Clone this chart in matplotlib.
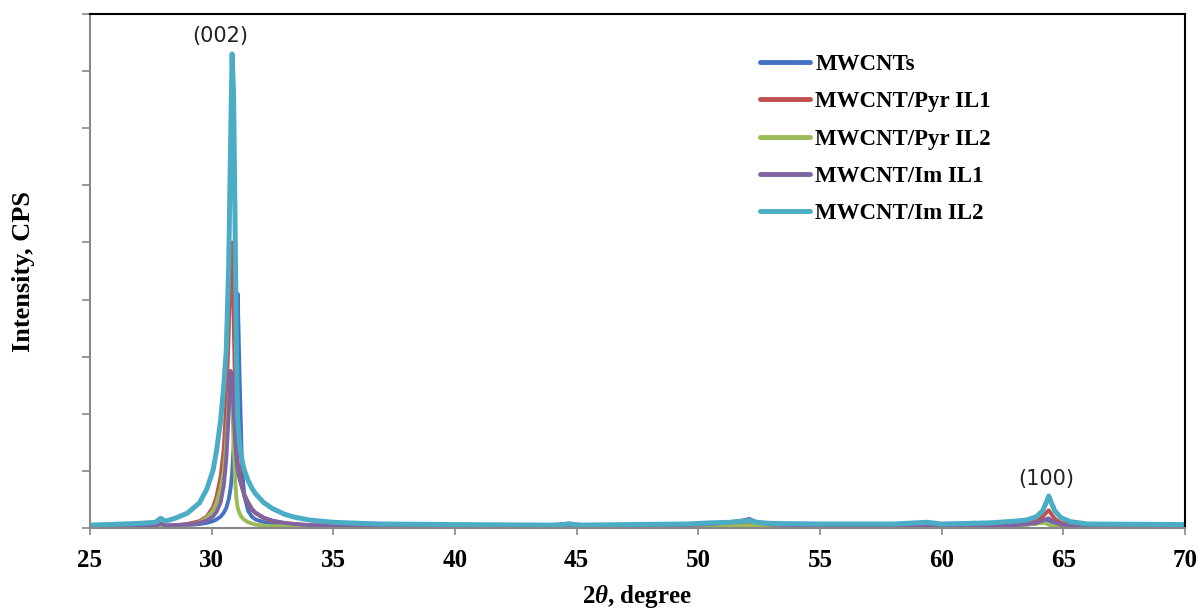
import matplotlib
matplotlib.use("Agg")
import matplotlib.pyplot as plt

# ---------------- data ----------------
two_theta = [25, 27, 27.7, 27.9, 28.1, 28.5, 29, 29.5, 29.8, 30.05,
             30.2, 30.37, 30.5, 30.6, 30.7, 30.78, 30.84, 30.9, 30.97, 31.02,
             31.07, 31.15, 31.25, 31.35, 31.5, 31.65, 31.8, 32.15, 32.5, 33,
             33.4, 34, 35, 36.2, 37, 40, 44, 44.7, 45.2, 47,
             49.5, 50.5, 51.3, 51.8, 52.1, 52.4, 53, 55, 58, 59.4,
             60, 62, 63, 63.5, 63.9, 64.15, 64.3, 64.4, 64.5, 64.65,
             64.9, 65.3, 66, 70]

mwcnts = [0.03, 0.04, 0.04, 0.06, 0.04, 0.04, 0.05, 0.07, 0.09, 0.12,
          0.15, 0.20, 0.27, 0.35, 0.50, 0.70, 0.95, 1.40, 2.40, 3.40,
          4.10, 2.60, 1.00, 0.55, 0.30, 0.20, 0.15, 0.10, 0.07, 0.05,
          0.05, 0.04, 0.04, 0.04, 0.04, 0.04, 0.04, 0.05, 0.04, 0.04,
          0.04, 0.05, 0.06, 0.07, 0.08, 0.06, 0.05, 0.04, 0.04, 0.05,
          0.04, 0.04, 0.05, 0.06, 0.08, 0.10, 0.12, 0.13, 0.11, 0.08,
          0.06, 0.05, 0.04, 0.04]

pyr_il1 = [0.03, 0.04, 0.04, 0.07, 0.04, 0.05, 0.07, 0.12, 0.20, 0.36,
           0.55, 0.90, 1.40, 2.20, 3.40, 4.60, 5.00, 3.80, 2.20, 1.50,
           1.15, 0.95, 0.72, 0.55, 0.42, 0.32, 0.26, 0.17, 0.12, 0.08,
           0.07, 0.05, 0.04, 0.05, 0.04, 0.04, 0.04, 0.08, 0.04, 0.05,
           0.05, 0.06, 0.07, 0.08, 0.09, 0.07, 0.05, 0.04, 0.04, 0.05,
           0.04, 0.04, 0.06, 0.08, 0.12, 0.20, 0.27, 0.31, 0.25, 0.16,
           0.09, 0.06, 0.04, 0.04]

pyr_il2 = [0.02, 0.02, 0.02, 0.04, 0.02, 0.03, 0.05, 0.10, 0.18, 0.30,
           0.44, 0.70, 1.00, 1.50, 2.20, 2.60, 2.30, 1.50, 0.80, 0.50,
           0.35, 0.25, 0.18, 0.14, 0.10, 0.08, 0.06, 0.04, 0.03, 0.03,
           0.02, 0.02, 0.02, 0.02, 0.02, 0.02, 0.02, 0.03, 0.02, 0.02,
           0.02, 0.02, 0.03, 0.04, 0.05, 0.04, 0.03, 0.02, 0.02, 0.03,
           0.02, 0.02, 0.04, 0.06, 0.08, 0.09, 0.08, 0.06, 0.04, 0.03,
           0.02, 0.02, 0.02, 0.02]

im_il1 = [0.03, 0.04, 0.04, 0.08, 0.04, 0.05, 0.06, 0.09, 0.13, 0.20,
          0.28, 0.45, 0.75, 1.20, 2.00, 2.75, 2.60, 2.10, 1.50, 1.20,
          1.00, 0.85, 0.70, 0.58, 0.45, 0.34, 0.27, 0.18, 0.13, 0.09,
          0.07, 0.05, 0.04, 0.04, 0.04, 0.04, 0.04, 0.05, 0.04, 0.04,
          0.05, 0.07, 0.10, 0.13, 0.16, 0.10, 0.06, 0.04, 0.04, 0.05,
          0.04, 0.04, 0.05, 0.07, 0.09, 0.13, 0.16, 0.17, 0.14, 0.10,
          0.06, 0.05, 0.04, 0.04]

im_il2 = [0.05, 0.08, 0.10, 0.17, 0.12, 0.17, 0.26, 0.44, 0.68, 1.00,
          1.35, 1.89, 2.50, 3.10, 4.60, 6.80, 8.30, 7.60, 5.00, 3.00,
          1.90, 1.45, 1.18, 1.00, 0.83, 0.70, 0.60, 0.44, 0.34, 0.24,
          0.19, 0.14, 0.10, 0.08, 0.07, 0.06, 0.05, 0.07, 0.05, 0.06,
          0.07, 0.09, 0.10, 0.12, 0.13, 0.10, 0.08, 0.07, 0.07, 0.10,
          0.07, 0.09, 0.12, 0.14, 0.20, 0.30, 0.45, 0.56, 0.45, 0.30,
          0.18, 0.11, 0.07, 0.06]

series_names = ["MWCNTs", "MWCNT/Pyr IL1", "MWCNT/Pyr IL2", "MWCNT/Im IL1", "MWCNT/Im IL2"]
series_values = [mwcnts, pyr_il1, pyr_il2, im_il1, im_il2]
series_colors = ["#4472C4", "#C0504D", "#9BBB59", "#8064A2", "#4BACC6"]
x_ticks = [25, 30, 35, 40, 45, 50, 55, 60, 65, 70]
peak_labels = ["(002)", "(100)"]
peak_label_pos = [(30.35, 8.62), (64.3, 0.86)]

# ---------------- figure ----------------
plt.rcParams['mathtext.fontset'] = 'custom'
plt.rcParams['mathtext.rm'] = 'Liberation Serif:bold'
plt.rcParams['mathtext.it'] = 'Liberation Serif:italic:bold'
plt.rcParams['mathtext.bf'] = 'Liberation Serif:bold'

fig = plt.figure(figsize=(12.04, 6.13), dpi=100)
ax = fig.add_axes([90 / 1204, 85 / 613, 1095 / 1204, 514 / 613])

widths = [2.8, 2.8, 2.8, 2.8, 3.6]
for name, vals, col, lw in zip(series_names, series_values, series_colors, widths):
    ax.plot(two_theta, vals, color=col, lw=lw, label=name,
            solid_joinstyle='round', solid_capstyle='round')

ax.set_xlim(25, 70)
ax.set_ylim(0, 9)
ax.set_xticks(x_ticks)
ax.set_yticks(range(0, 10))
ax.set_yticklabels([])
ax.tick_params(axis='x', direction='out', length=5, width=1.2, color='#888888', pad=10)
ax.tick_params(axis='y', direction='out', length=6, width=1.2, color='#888888')
for lbl in ax.get_xticklabels():
    lbl.set_fontfamily('Liberation Serif')
    lbl.set_fontweight('bold')
    lbl.set_fontsize(18)

ax.spines['left'].set_color('#888888')
ax.spines['bottom'].set_color('#888888')
ax.spines['left'].set_linewidth(1.5)
ax.spines['bottom'].set_linewidth(1.5)
ax.spines['top'].set_color('black')
ax.spines['right'].set_color('black')
ax.spines['top'].set_linewidth(1.5)
ax.spines['right'].set_linewidth(1.5)

ax.set_xlabel(r"$\mathit{2\theta}$, degree", fontfamily='Liberation Serif',
              fontweight='bold', fontsize=18, labelpad=8)
ax.set_ylabel("Intensity, CPS", fontfamily='Liberation Serif',
              fontweight='bold', fontsize=19, labelpad=30)

for txt, (px, py) in zip(peak_labels, peak_label_pos):
    ax.text(px, py, txt, ha='center', va='center', fontfamily='DejaVu Sans',
            fontsize=15, color='#222222')

leg = ax.legend(loc='upper left', bbox_to_anchor=(760 / 1204, 1 - 54 / 613),
                bbox_transform=fig.transFigure, frameon=False,
                prop={'family': 'Liberation Serif', 'weight': 'bold', 'size': 16.5},
                handlelength=2.2, handletextpad=0.22, labelspacing=0.71,
                borderaxespad=0, borderpad=0)
for h in leg.get_lines():
    h.set_linewidth(3.5)

fig.savefig("out.png", dpi=100)
